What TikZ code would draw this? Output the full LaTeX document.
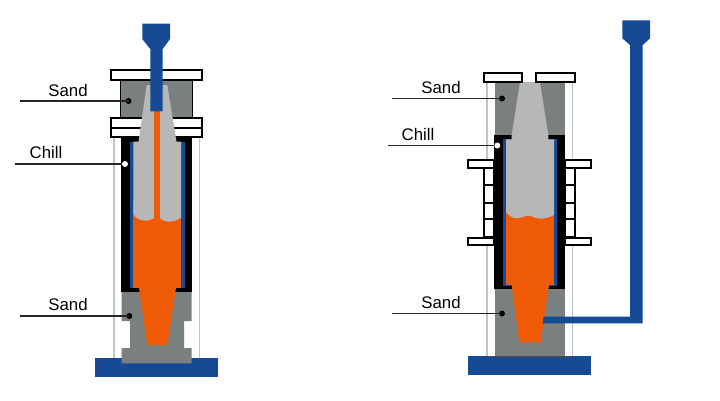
\documentclass[tikz,border=0pt]{standalone}
\usepackage{fontspec}
\setmainfont{Liberation Sans}
\definecolor{cblue}{HTML}{164A94}
\definecolor{corange}{HTML}{EE5A05}
\definecolor{csand}{HTML}{7A7F7F}
\definecolor{criser}{HTML}{B7B7B7}
\definecolor{cguide}{HTML}{C4C4C4}
\tikzset{
  bluepart/.style={fill=cblue,draw=none},
  metal/.style={fill=corange,draw=none},
  sandpart/.style={fill=csand,draw=none},
  riser/.style={fill=criser,draw=none},
  chill/.style={fill=black,draw=none},
  plate/.style={fill=white,draw=black,line width=2pt},
  guide/.style={draw=cguide,line width=1.4pt},
  lead/.style={draw=black!85,line width=1.3pt},
  lbl/.style={font=\fontsize{16.8}{18}\selectfont,text=black,inner sep=0pt},
  dotb/.style={circle,fill=black,inner sep=0pt,minimum size=6pt},
  dotw/.style={circle,fill=white,inner sep=0pt,minimum size=6pt}
}
\begin{document}
\begin{tikzpicture}[x=1pt,y=-1pt]
\useasboundingbox (0,0) rectangle (720,400);
% ---------- LEFT ----------
\draw[guide] (114,137) -- (114,358);
\draw[guide] (199.3,137) -- (199.3,358);
\fill[bluepart] (95,358) rectangle (218.3,376.7);
% lower sand
\fill[sandpart] (121.7,292) -- (191.7,292) -- (191.7,321) -- (184,321) -- (184,348) -- (191.7,348) -- (191.7,363.3) -- (121.7,363.3) -- (121.7,348) -- (130,348) -- (130,321) -- (121.7,321) -- cycle;
% upper sand
\fill[sandpart] (120.7,80) rectangle (192.7,117);
\draw[black,line width=.8pt] (120.7,80) -- (120.7,117) (192.7,80) -- (192.7,117);
% plates
\draw[plate] (111,70.3) rectangle (202.3,79.8);
\draw[plate] (111,118) rectangle (202.3,127.7);
\draw[plate] (111,127.7) rectangle (202.3,137);
% chill
\fill[chill] (121,137.7) rectangle (192.3,292);
\fill[bluepart] (130,141.7) rectangle (184.7,288.3);
% metal
\fill[metal] (133.3,200) rectangle (181,288.3);
\fill[metal] (139,288) -- (176,288) -- (167.3,345) -- (147.3,345) -- cycle;
% riser
\fill[riser] (146.7,85) -- (167.3,85) -- (176.5,141.7) -- (181,141.7) -- (181,217.7)
  .. controls (176,220.5) and (174,221.7) .. (170,221.7)
  .. controls (165,221.7) and (162,220) .. (159.8,218.3)
  -- (159.8,150) -- (154,150) -- (154,218.3)
  .. controls (151,220) and (148,220.7) .. (145,220.7)
  .. controls (140,220.7) and (136,218) .. (133.3,214.3)
  -- (133.3,141.7) -- (138.5,141.7) -- cycle;
\fill[metal] (154,108) rectangle (159.8,220);
% pouring system
\fill[bluepart] (142.3,23.7) -- (170,23.7) -- (170,39) -- (162.7,49) -- (162.7,111.3) -- (150.3,111.3) -- (150.3,49) -- (142.3,39) -- cycle;
% labels
\node[lbl] (sandA) at (68,90.7) {Sand};
\node[lbl] (chillA) at (46,152.5) {Chill};
\node[lbl] (sandB) at (68,304.5) {Sand};
\node[dotb] (dA) at (128.5,101) {};
\node[dotw] (dB) at (125,164) {};
\node[dotb] (dC) at (129.3,316) {};
\coordinate (sA) at (20,101);
\coordinate (sB) at (15,164);
\coordinate (sC) at (20,316);
\draw[lead] (sA) -- (dA.center);
\draw[lead] (sB) -- (dB);
\draw[lead] (sC) -- (dC.center);
% ---------- RIGHT ----------
\draw[guide] (487,82) -- (487,356);
\draw[guide] (572.3,82) -- (572.3,356);
% sand
\fill[sandpart] (494.7,82) rectangle (564.7,356);
% base
\fill[bluepart] (467.7,356) rectangle (591.3,374.7);
\draw[black!70,line width=.7pt] (487,356) -- (572.3,356);
% chill
\fill[chill] (494,135) rectangle (565.3,289.3);
\fill[bluepart] (502.7,139.3) rectangle (557.3,286);
% metal
\fill[metal] (506,205) rectangle (554,285);
\fill[metal] (511.7,285) -- (549,285) -- (540.7,342.3) -- (519.3,342.3) -- cycle;
% riser
\fill[riser] (520,82) -- (540,82) -- (548.3,135) -- (548.3,139.3) -- (554,139.3) -- (554,215)
  .. controls (549,217.5) and (545,218.7) .. (540,218.7)
  .. controls (535,218.7) and (533,215.7) .. (528.3,215.7)
  .. controls (524,215.7) and (521,218.3) .. (516.7,218.3)
  .. controls (512,218.3) and (508,215) .. (506,211.7)
  -- (506,139.3) -- (511.7,139.3) -- (511.7,135) -- cycle;
% top plates
\draw[plate] (483.7,72.7) rectangle (522.3,81.5);
\draw[plate] (536.3,72.7) rectangle (575,81.5);
% side clamp left
\draw[plate] (484.3,168) rectangle (494,185);
\draw[plate] (484.3,185) rectangle (494,202.7);
\draw[plate] (484.3,202.7) rectangle (494,219.3);
\draw[plate] (484.3,219.3) rectangle (494,237);
\draw[plate] (468.3,160.3) rectangle (494,167.9);
\draw[plate] (468.3,237.7) rectangle (494,244.5);
% side clamp right
\draw[plate] (565.3,168) rectangle (575,185);
\draw[plate] (565.3,185) rectangle (575,202.7);
\draw[plate] (565.3,202.7) rectangle (575,219.3);
\draw[plate] (565.3,219.3) rectangle (575,237);
\draw[plate] (565.3,160.3) rectangle (590.7,167.9);
\draw[plate] (565.3,237.7) rectangle (590.7,244.5);
% pouring system
\fill[bluepart] (622.3,20.3) -- (650,20.3) -- (650,38.3) -- (642.7,45) -- (642.7,323.3) -- (542.7,323.3) -- (543.7,316.7) -- (630,316.7) -- (630,45) -- (622.3,38.3) -- cycle;
% labels
\node[lbl] (sandC) at (441,87.3) {Sand};
\node[lbl] (chillB) at (418,134.3) {Chill};
\node[lbl] (sandD) at (441,302.3) {Sand};
\node[dotb] (dD) at (502,98.5) {};
\node[dotw] (dE) at (497.3,145.5) {};
\node[dotb] (dF) at (502,313.5) {};
\coordinate (sD) at (392,98.5);
\coordinate (sE) at (388,145.5);
\coordinate (sF) at (392,313.5);
\draw[lead] (sD) -- (dD.center);
\draw[lead] (sE) -- (dE);
\draw[lead] (sF) -- (dF.center);
\end{tikzpicture}
\end{document}
